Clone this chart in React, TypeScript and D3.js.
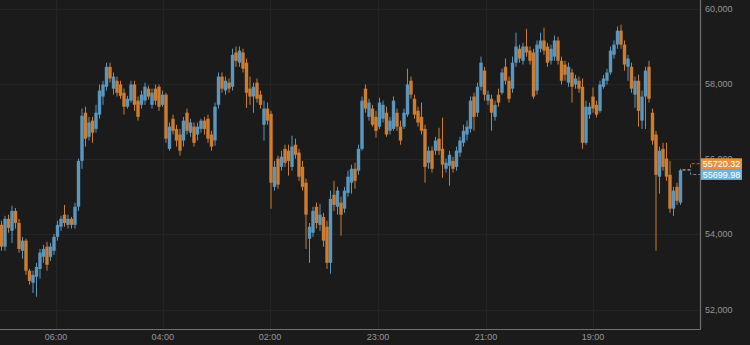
import React, { useEffect } from 'react';
import * as d3 from 'd3';

const opens = [
  54250, 53670, 54410, 54090, 54620, 54300, 53560, 53830, 53030, 52710,
  52870, 53080, 53400, 53670, 53400, 53560, 53930, 54200, 54520, 54250,
  54410, 54250, 54730, 55950, 57230, 56590, 57020, 56800, 57180, 57660,
  57920, 58450, 57870, 58080, 57980, 57760, 57390, 57550, 57980, 57550,
  57440, 57550, 57870, 57440, 57870, 57920, 57440, 57710, 56270, 57070,
  56800, 56650, 56490, 57230, 56700, 56860, 56650, 56800, 57020, 57070,
  56650, 56490, 57440, 58190, 57820, 58030, 57920, 58830, 58560, 58830,
  58560, 57870, 57660, 58030, 57710, 56910, 57340, 57200, 55260, 56010,
  55790, 56270, 56220, 55790, 56380, 56170, 55790, 55370, 53880, 54040,
  54730, 54250, 54460, 54200, 53240, 55050, 54730, 54840, 54680, 55100,
  55370, 55740, 55690, 56270, 57870, 57120, 57340, 57120, 56860, 57070,
  57230, 56750, 56800, 57230, 56860, 56860, 57180, 58080, 57600, 57280,
  57120, 56800, 55900, 56220, 56220, 56540, 56270, 55740, 55820, 55950,
  55790, 56170, 56430, 56650, 56800, 57660, 57230, 57920, 58350, 57550,
  57600, 57120, 57710, 57760, 58450, 58080, 57870, 58560, 58930, 58610,
  58990, 58880, 58830, 57820, 58930, 59150, 58990, 58610, 58720, 59150,
  58610, 58510, 58030, 58300, 57980, 58080, 57920, 56430, 57180, 57660,
  57440, 57280, 57920, 58080, 58300, 58770, 59040, 59410, 59040, 58450,
  58450, 57710, 58080, 57020, 57660, 58450, 57230, 56650, 55530, 56270,
  56010, 55580, 54680, 55260, 54840,
];

const highs = [
  54360, 54490, 54520, 54760, 54700, 54410, 53930, 53880, 53080, 53030,
  53240, 53610, 53720, 53800, 53770, 54010, 54360, 54490, 54780, 54520,
  54460, 54840, 56010, 57340, 57390, 57120, 57120, 57440, 57980, 58080,
  58560, 58560, 58300, 58190, 58080, 57870, 57680, 58080, 58080, 57660,
  57820, 58030, 57950, 57870, 57980, 57980, 57820, 57760, 56970, 57180,
  56910, 56800, 57120, 57340, 57070, 56970, 56970, 57070, 57120, 57180,
  56750, 57500, 58300, 58300, 58190, 58140, 58930, 58990, 58990, 58930,
  58670, 58190, 58030, 58140, 57820, 57550, 57500, 57280, 55950, 56090,
  56220, 56380, 56380, 56620, 56540, 56270, 55950, 55480, 54300, 54730,
  54840, 54810, 54570, 54360, 55160, 55420, 55260, 55000, 55260, 55690,
  55850, 55900, 56380, 57660, 57980, 57600, 57440, 57280, 57630, 57550,
  57390, 57120, 57660, 57340, 57020, 57340, 58400, 58190, 57710, 57390,
  57500, 56910, 56330, 56330, 56590, 56830, 57100, 56010, 56220, 56060,
  56330, 56590, 56910, 57020, 57660, 57760, 58030, 58720, 58450, 57820,
  57710, 57550, 57870, 58400, 58670, 58190, 58720, 59360, 59040, 59090,
  59460, 58990, 58930, 59150, 59360, 59490, 59090, 59040, 59280, 59250,
  58720, 58610, 58560, 58400, 58240, 58190, 58140, 57550, 57500, 57900,
  57550, 58080, 58240, 58400, 58990, 59150, 59520, 59570, 59150, 58770,
  58560, 58190, 58240, 57820, 58450, 58610, 57340, 56750, 56330, 56430,
  56430, 55950, 55260, 55370, 55740,
];

const lows = [
  53560, 53560, 54040, 53770, 54150, 53510, 53350, 52920, 52660, 52440,
  52340, 52820, 53240, 53030, 53290, 53450, 53830, 54090, 54200, 54150,
  54150, 54150, 54620, 55740, 56330, 56490, 56430, 56700, 57070, 57440,
  57820, 58030, 57710, 57660, 57600, 57180, 57340, 57500, 57280, 57020,
  57340, 57440, 57580, 57340, 57440, 57280, 57390, 56430, 56220, 56650,
  56330, 56090, 56330, 56650, 56590, 56330, 56490, 56700, 56650, 56430,
  56220, 56350, 57340, 57760, 57710, 57760, 57820, 58450, 58450, 58300,
  57360, 57440, 57230, 57500, 57340, 56490, 56910, 54680, 55160, 55210,
  55690, 55790, 55560, 55690, 56010, 55420, 55160, 53610, 53240, 53930,
  54150, 54090, 53670, 53080, 52950, 54620, 54520, 53960, 54570, 55000,
  55080, 55210, 55580, 56220, 57230, 57020, 56860, 56570, 56800, 56970,
  56590, 56650, 56750, 56750, 56380, 56800, 57120, 57600, 57070, 56860,
  56650, 55370, 55740, 55640, 56110, 56110, 55500, 55640, 55290, 55640,
  55690, 56060, 56330, 56490, 56700, 56750, 57120, 57820, 57550, 57440,
  56750, 57020, 57390, 57710, 57980, 57500, 57760, 58450, 58560, 58510,
  58720, 58510, 57600, 57710, 58830, 58770, 58450, 58510, 58610, 58510,
  57980, 58080, 57920, 57500, 57870, 57760, 56270, 56380, 57070, 57230,
  57100, 57230, 57870, 57980, 58240, 58670, 58930, 58930, 58350, 58080,
  57760, 57360, 56860, 56800, 56800, 57500, 56380, 53560, 55080, 55690,
  55420, 54570, 54490, 54780, 54780,
];

const closes = [
  53670, 54410, 54170, 54620, 54300, 53610, 53830, 53030, 52760, 52920,
  53130, 53510, 53610, 53190, 53670, 53930, 54250, 54410, 54300, 54410,
  54250, 54730, 55950, 57150, 56540, 56970, 56700, 57230, 57820, 57980,
  58450, 58140, 58190, 57760, 57680, 57390, 57600, 57980, 57440, 57120,
  57710, 57920, 57660, 57760, 57550, 57390, 57710, 56540, 56860, 56750,
  56490, 56220, 57020, 56750, 56970, 56430, 56860, 57020, 56800, 56540,
  56330, 57390, 58190, 57870, 58080, 57870, 58770, 58610, 58880, 58400,
  57760, 57660, 57920, 57600, 57440, 57340, 57020, 55370, 55790, 55320,
  56060, 55900, 55950, 56330, 56110, 55530, 55260, 54520, 54200, 54620,
  54300, 54520, 53830, 53240, 54940, 54780, 55160, 54520, 55160, 55530,
  55740, 55420, 56270, 57550, 57340, 57500, 56910, 56750, 57500, 57440,
  56650, 57020, 57550, 56860, 56490, 57230, 57980, 57710, 57180, 56970,
  56750, 55790, 56220, 55740, 56490, 56220, 55850, 55900, 56110, 55740,
  56220, 56490, 56750, 56860, 57550, 57120, 57920, 58560, 57710, 57710,
  57230, 57440, 57500, 58300, 58080, 57600, 58560, 58990, 58670, 58990,
  58830, 58610, 57660, 59040, 59150, 58880, 58560, 58930, 59150, 58610,
  58080, 58240, 58450, 57920, 58140, 57870, 56430, 57390, 57390, 57340,
  57180, 57980, 58140, 58300, 58880, 59040, 59410, 59040, 58510, 58670,
  57870, 58080, 57280, 57660, 58350, 57600, 56490, 55580, 56220, 55790,
  55530, 54680, 55160, 54890, 55700,
];

const yTicks = [52000, 54000, 56000, 58000, 60000];
const xTickLabels = ['06:00', '04:00', '02:00', '23:00', '21:00', '19:00'];
const xTickIndex = [15.6, 46.1, 76.7, 107.6, 138.4, 169.0];
const priceLabelValues = [55720.32, 55699.98];

const BG = '#1b1b1b';
const GRID = '#242424';
const AXIS = '#707070';
const TEXT = '#969696';
const UP = '#63a8d4';
const DOWN = '#e68b36';
const FONT = '"Liberation Sans", Arial, Helvetica, sans-serif';

export default function App() {
  useEffect(() => {
    document.body.style.margin = '0';
    document.body.style.background = BG;
  }, []);

  const W = 750;
  const H = 345;
  const plotRight = 700.5;
  const plotBottom = 329.5;
  const n = closes.length;

  const x = d3.scaleLinear().domain([0, n - 1]).range([1.5, 680.5]);
  const y = d3.scaleLinear().domain([52000, 60000]).range([309.5, 8.5]);
  const fmt = d3.format(',');

  const bodyW = 3.4;
  const lastX = x(n - 1);
  const baseY = y((priceLabelValues[0] + priceLabelValues[1]) / 2);
  const boxH = 10.8;
  const labelBoxes = [
    { v: priceLabelValues[0], color: '#e8913c', top: baseY - boxH - 0.8 },
    { v: priceLabelValues[1], color: '#6fb2dc', top: baseY - 0.8 },
  ];

  return (
    <svg width={W} height={H} style={{ display: 'block', position: 'absolute', left: 0, top: 0, background: BG }}>
      <rect x={0} y={0} width={W} height={H} fill={BG} />
      {yTicks.map((t) => (
        <line key={'gy' + t} x1={0} x2={plotRight} y1={Math.round(y(t)) + 0.5} y2={Math.round(y(t)) + 0.5} stroke={GRID} strokeWidth={1} />
      ))}
      {xTickIndex.map((t, i) => (
        <line key={'gx' + i} x1={Math.round(x(t)) + 0.5} x2={Math.round(x(t)) + 0.5} y1={0} y2={plotBottom} stroke={GRID} strokeWidth={1} />
      ))}
      <g>
        {closes.map((c, i) => {
          const o = opens[i];
          const up = c >= o;
          const col = up ? UP : DOWN;
          const cx = x(i);
          const hi = Math.max(highs[i], o, c);
          const lo = Math.min(lows[i], o, c);
          const top = y(Math.max(o, c));
          const bot = y(Math.min(o, c));
          return (
            <g key={i} opacity={0.88}>
              <line x1={cx} x2={cx} y1={y(hi)} y2={y(lo)} stroke={col} strokeWidth={1} />
              <rect x={cx - bodyW / 2} y={top} width={bodyW} height={Math.max(1, bot - top)} fill={col} />
            </g>
          );
        })}
      </g>
      {labelBoxes.map((b, i) => (
        <path
          key={'dash' + i}
          d={`M${lastX + 2},${y(b.v)} H690.5 V${b.top + boxH / 2} H${plotRight}`}
          fill="none"
          stroke={b.color}
          strokeWidth={1}
          strokeDasharray="3,2"
          opacity={0.75}
        />
      ))}
      <line x1={plotRight} x2={plotRight} y1={0} y2={plotBottom} stroke={AXIS} strokeWidth={1.2} />
      <line x1={0} x2={plotRight} y1={plotBottom} y2={plotBottom} stroke={AXIS} strokeWidth={1.2} />
      {yTicks.map((t) => (
        <text key={'yl' + t} x={705} y={y(t)} dy="0.35em" fill={TEXT} fontSize={9} fontFamily={FONT}>
          {fmt(t)}
        </text>
      ))}
      {xTickIndex.map((t, i) => (
        <text key={'xl' + i} x={x(t)} y={337} dy="0.35em" textAnchor="middle" fill={TEXT} fontSize={9} fontFamily={FONT}>
          {xTickLabels[i]}
        </text>
      ))}
      {labelBoxes.map((b, i) => (
        <g key={'pl' + i}>
          <rect x={701} y={b.top} width={41} height={boxH} fill={b.color} />
          <text x={721.5} y={b.top + boxH / 2} dy="0.35em" textAnchor="middle" fill="#ffffff" fontSize={9} fontFamily={FONT}>
            {b.v.toFixed(2)}
          </text>
        </g>
      ))}
    </svg>
  );
}
